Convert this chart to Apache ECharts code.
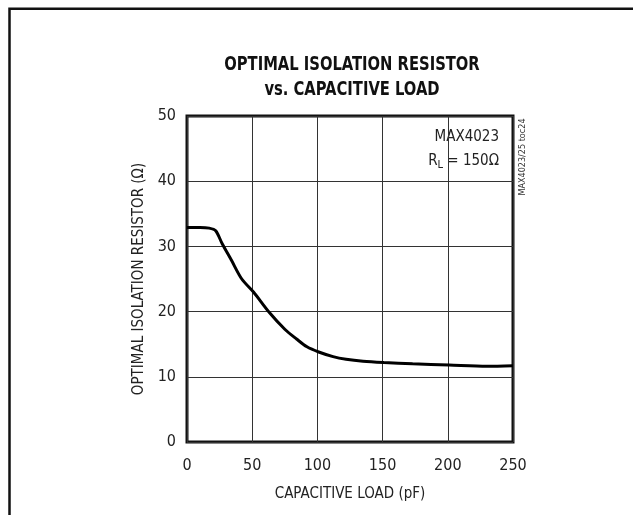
<!DOCTYPE html>
<html>
<head>
<meta charset="utf-8">
<script src="https://cdn.jsdelivr.net/npm/echarts@6/dist/echarts.min.js"></script>
<style>
  html, body { margin: 0; padding: 0; background: #fff; }
  #chart { width: 633px; height: 515px; }
</style>
</head>
<body>
<div id="chart"></div>
<script>
// capacitive load (pF) vs optimal isolation resistor (ohm)
const loadPF = [0, 10, 17, 22, 27, 34, 42, 51, 63, 75, 84, 92, 101, 112, 122, 135, 151, 173, 201, 230, 250];
const resistOhm = [32.9, 32.9, 32.8, 32.4, 30.4, 27.9, 25.0, 23.0, 19.9, 17.3, 15.8, 14.6, 13.8, 13.1, 12.7, 12.4, 12.2, 12.0, 11.8, 11.6, 11.7];
const xTicks = [0, 50, 100, 150, 200, 250];
const yTicks = [0, 10, 20, 30, 40, 50];

const narrow = '"Liberation Sans Narrow", "DejaVu Sans Condensed", sans-serif';

const chart = echarts.init(document.getElementById("chart"));
const option = {
  backgroundColor: "#fff",
  animation: false,
  grid: {
    left: 187,
    top: 116,
    width: 326,
    height: 326,
    show: true,
    borderColor: "#111",
    borderWidth: 3,
  },
  xAxis: {
    type: "value",
    min: xTicks[0],
    max: xTicks[xTicks.length - 1],
    interval: 50,
    name: "CAPACITIVE LOAD (pF)",
    nameLocation: "middle",
    nameGap: 45,
    nameTextStyle: { fontFamily: narrow, fontSize: 15, color: "#222" },
    axisLine: { show: false },
    axisTick: { show: false },
    axisLabel: { fontFamily: narrow, fontSize: 16, color: "#222", margin: 16 },
    splitLine: { lineStyle: { color: "#333", width: 1 } },
  },
  yAxis: {
    type: "value",
    min: yTicks[0],
    max: yTicks[yTicks.length - 1],
    interval: 10,
    name: "OPTIMAL ISOLATION RESISTOR (Ω)",
    nameLocation: "middle",
    nameGap: 40,
    nameTextStyle: { fontFamily: narrow, fontSize: 15, color: "#222" },
    axisLine: { show: false },
    axisTick: { show: false },
    axisLabel: { fontFamily: narrow, fontSize: 16, color: "#222", margin: 11 },
    splitLine: { lineStyle: { color: "#333", width: 1 } },
  },
  graphic: [
    // page frame: only the left and top edges show
    {
      type: "rect",
      shape: { x: 9.5, y: 8.7, width: 700, height: 600 },
      style: { fill: "none", stroke: "#111", lineWidth: 2.5 },
      silent: true,
    },
    {
      type: "text",
      x: 352,
      y: 65,
      scaleX: 0.82,
      style: {
        text: "OPTIMAL ISOLATION RESISTOR",
        align: "center",
        verticalAlign: "middle",
        font: 'bold 20px ' + narrow,
        fill: "#111",
      },
    },
    {
      type: "text",
      x: 352,
      y: 90,
      scaleX: 0.82,
      style: {
        text: "vs. CAPACITIVE LOAD",
        align: "center",
        verticalAlign: "middle",
        font: 'bold 20px ' + narrow,
        fill: "#111",
      },
    },
    {
      type: "text",
      x: 499,
      y: 137,
      style: {
        text: "MAX4023",
        align: "right",
        verticalAlign: "middle",
        font: '15px ' + narrow,
        fill: "#222",
      },
    },
    {
      type: "text",
      x: 499,
      y: 161,
      style: {
        text: "{r|R}{s|L}{r| = 150Ω}",
        align: "right",
        verticalAlign: "middle",
        fill: "#222",
        rich: {
          r: { fontFamily: narrow, fontSize: 15, lineHeight: 20, color: "#222" },
          s: { fontFamily: narrow, fontSize: 11, lineHeight: 20, color: "#222", verticalAlign: "bottom", padding: [8, 0, 0, 0] },
        },
      },
    },
    {
      type: "text",
      x: 523,
      y: 157,
      rotation: Math.PI / 2,
      style: {
        text: "MAX4023/25 toc24",
        align: "center",
        verticalAlign: "middle",
        font: '9px ' + narrow,
        fill: "#333",
      },
    },
  ],
  series: [
    {
      type: "line",
      smooth: 0.3,
      showSymbol: false,
      lineStyle: { color: "#000", width: 3 },
      data: loadPF.map((x, i) => [x, resistOhm[i]]),
    },
  ],
};
chart.setOption(option);
</script>
</body>
</html>
